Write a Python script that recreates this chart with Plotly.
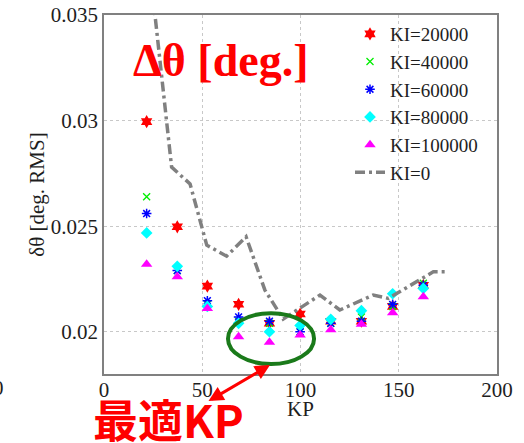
import plotly.graph_objects as go

# ---------------- data ----------------
kp = [21.7, 37.3, 52.6, 68.5, 84.2, 99.8, 115.4, 131.0, 146.9, 162.5]
ki_20000 = [0.02995, 0.02497, 0.02216, 0.0213, 0.0204, 0.02084, 0.0205, 0.0205, 0.0212, 0.0222]
ki_40000 = [0.02639, 0.0229, 0.0213, 0.0205, 0.0204, 0.0200, 0.0204, 0.0207, 0.0212, 0.0223]
ki_60000 = [0.0256, 0.0229, 0.02147, 0.0207, 0.0205, 0.0200, 0.0204, 0.0205, 0.0213, 0.0222]
ki_80000 = [0.02468, 0.0231, 0.0212, 0.0204, 0.0200, 0.0203, 0.02059, 0.0210, 0.0218, 0.02205]
ki_100000 = [0.0232, 0.0226, 0.0211, 0.01976, 0.0195, 0.01985, 0.0201, 0.02035, 0.0209, 0.02166]

kp_ki0 = [25.0, 34.4, 43.8, 52.3, 62.4, 72.3, 81.9, 91.2, 109.9, 120.0, 137.0, 144.7, 167.6, 175.3]
ki_0 = [0.0358, 0.0278, 0.0270, 0.0241, 0.02358, 0.0245, 0.02197, 0.0206, 0.02174, 0.02103,
        0.02174, 0.02158, 0.02284, 0.02284]

x_ticks = [0, 50, 100, 150, 200]
y_ticks = [0.02, 0.025, 0.03, 0.035]
y_ticktext = ["0.02", "0.025", "0.03", "0.035"]

SERIF = "Liberation Serif"
FS = 21
TXT = "#1e1e1e"

# plot-area geometry (pixels) used to place paper-referenced annotations
L, R, T, B = 104, 497, 15, 374


def px(xp):
    return (xp - L) / (R - L)


def py(yp):
    return (B - yp) / (B - T)


fig = go.Figure()

series = [
    ("KI=20000", ki_20000, "hexagram", "#ff0000", 10, 0),
    ("KI=40000", ki_40000, "x-thin-open", "#00ee00", 7, 1.3),
    ("KI=60000", ki_60000, "asterisk-open", "#0000ff", 8, 1.5),
    ("KI=80000", ki_80000, "diamond", "#00ffff", 9, 0),
    ("KI=100000", ki_100000, "triangle-up", "#ff00ff", 10, 0),
]
for name, vals, sym, col, size, lw in series:
    fig.add_trace(go.Scatter(
        x=kp, y=vals, mode="markers", name=name,
        marker=dict(symbol=sym, color=col, size=size,
                    line=dict(color=col, width=lw)),
    ))

fig.add_trace(go.Scatter(
    x=kp_ki0, y=ki_0, mode="lines", name="KI=0",
    line=dict(color="#808080", width=3.5, dash="10px,4px,3px,4px"),
))

# green ellipse around optimal region
fig.add_shape(type="circle", xref="x", yref="y",
              x0=63.1, x1=106.9, y0=0.01847, y1=0.02088,
              line=dict(color="#1a7a1a", width=4))

annotations = [
    dict(text="<b>Δθ [deg.]</b>", xref="paper", yref="paper",
         x=px(221), y=py(60), xanchor="center", yanchor="middle", showarrow=False,
         font=dict(family=SERIF, size=46, color="#ff0000")),
    dict(text="<b>最適KP</b>", xref="paper", yref="paper",
         x=px(168), y=py(419), xanchor="center", yanchor="middle", showarrow=False,
         font=dict(family="Noto Sans CJK JP", size=45, color="#ff0000")),
    dict(text="", xref="paper", yref="paper",
         x=px(270), y=py(365),
         ax=-63, ay=37, axref="pixel", ayref="pixel",
         showarrow=True, arrowhead=2, startarrowhead=2, arrowside="end+start",
         arrowsize=1, startarrowsize=1, arrowwidth=3, arrowcolor="#ff0000"),
    dict(text="200", xref="paper", yref="paper",
         x=px(6), y=py(388), xanchor="right", yanchor="middle",
         showarrow=False, font=dict(family=SERIF, size=FS, color=TXT)),
    dict(text="KP", xref="paper", yref="paper",
         x=px(300), y=py(409), xanchor="center", yanchor="middle",
         showarrow=False, font=dict(family=SERIF, size=FS, color=TXT)),
]

fig.update_layout(
    width=524, height=443,
    margin=dict(l=L, r=524 - R, t=T, b=443 - B, autoexpand=False),
    paper_bgcolor="white", plot_bgcolor="white",
    font=dict(family=SERIF, size=FS, color=TXT),
    showlegend=True,
    legend=dict(x=px(350), y=py(15), xanchor="left", yanchor="top",
                bgcolor="rgba(0,0,0,0)", borderwidth=0,
                font=dict(family=SERIF, size=19, color=TXT),
                itemwidth=30, tracegroupgap=0),
    annotations=annotations,
    xaxis=dict(range=[0, 200], tickvals=x_ticks, showgrid=True, automargin=False,
               gridcolor="#c8c8c8", griddash="dot", gridwidth=1,
               showline=True, linecolor="#808080", linewidth=1.5, mirror=True,
               zeroline=False, ticks="", ticklen=0, ticklabelstandoff=-4),
    yaxis=dict(range=[0.018, 0.035], tickvals=y_ticks, ticktext=y_ticktext, showgrid=True,
               automargin=False,
               gridcolor="#c8c8c8", griddash="dot", gridwidth=1,
               showline=True, linecolor="#808080", linewidth=1.5, mirror=True,
               zeroline=False, ticks="", ticklen=0,
               title=dict(text="δθ [deg. RMS]", standoff=0, font=dict(family=SERIF, size=FS))),
)

fig.write_html("out.html", config={"displayModeBar": False},
               post_script="document.body.style.margin='0';")
